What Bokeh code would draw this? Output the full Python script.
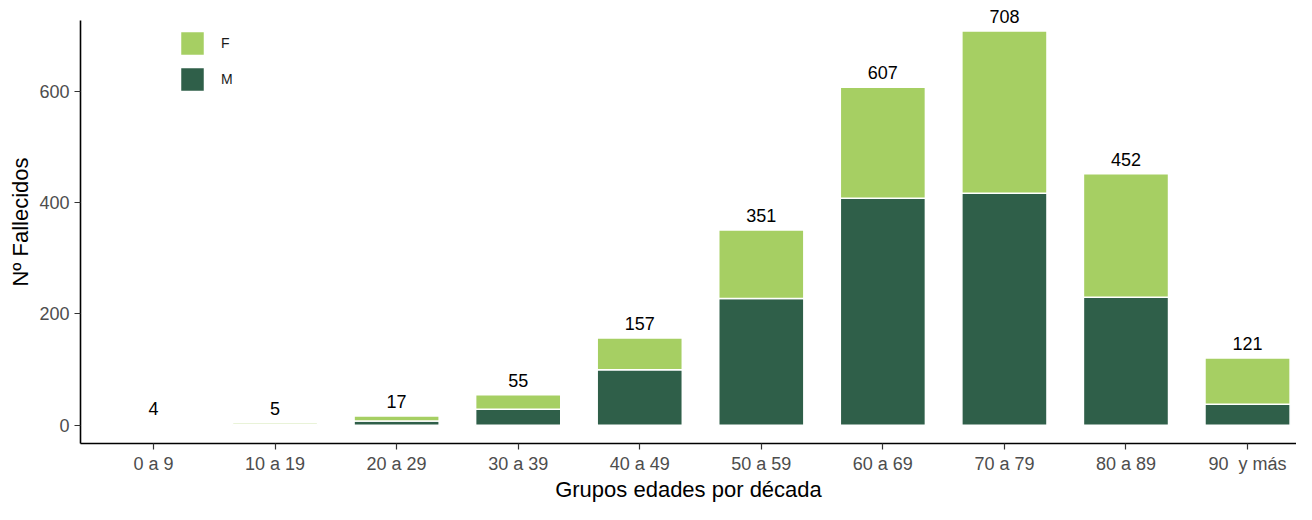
from bokeh.plotting import figure
from bokeh.models import (ColumnDataSource, Range1d, FixedTicker, LabelSet,
                          Legend, LegendItem)
from bokeh.core.properties import value
from bokeh.embed import file_html
from bokeh.resources import INLINE

# ---- data ----
categories = ["0 a 9", "10 a 19", "20 a 29", "30 a 39", "40 a 49",
              "50 a 59", "60 a 69", "70 a 79", "80 a 89", "90  y más"]
m_values = [2, 2, 8, 29, 100, 228, 408, 417, 230, 38]
f_values = [2, 3, 9, 26, 57, 123, 199, 291, 222, 83]
totals = [4, 5, 17, 55, 157, 351, 607, 708, 452, 121]
y_ticks = [0, 200, 400, 600]
x_title = "Grupos edades por década"
y_title = "Nº Fallecidos"

FONT = "Liberation Sans"
LIGHT = "#A6CF63"
DARK = "#2F5F49"

FRAME_W, FRAME_H = 1216, 443
AXIS_TOP_PX = 20          # where the y axis line starts below frame top
Y0, YTOP = -32.6, 727
py = (FRAME_H - AXIS_TOP_PX) / (YTOP - Y0)
Y1 = YTOP + AXIS_TOP_PX / py
SPACING = 121.56
X0 = -73 / SPACING
X1 = X0 + FRAME_W / SPACING

xs = list(range(len(categories)))
src = ColumnDataSource(dict(
    x=xs, M=m_values, F=f_values, total=totals,
    label=[str(t) for t in totals],
))

p = figure(frame_width=FRAME_W, frame_height=FRAME_H,
           output_backend="svg", toolbar_location=None,
           x_range=Range1d(X0, X1), y_range=Range1d(Y0, Y1),
           min_border_left=80, min_border_right=0, min_border_top=0,
           min_border_bottom=0)

rs = p.vbar_stack(["M", "F"], x="x", width=0.7, source=src,
                  fill_color=[DARK, LIGHT], line_color="white", line_width=1.5)

labels = LabelSet(x="x", y="total", text="label", source=src,
                  text_align="center", text_baseline="alphabetic", y_offset=8,
                  text_font=value(FONT), text_font_size="18px",
                  text_color="black")
p.add_layout(labels)

legend = Legend(items=[LegendItem(label="F", renderers=[rs[1]]),
                       LegendItem(label="M", renderers=[rs[0]])],
                location=(97, FRAME_H - 28 - 66), glyph_width=30, glyph_height=30,
                spacing=6, padding=0, margin=0, label_standoff=14,
                label_text_font=FONT, label_text_font_size="14px",
                label_text_color="#1a1a1a", background_fill_alpha=0,
                border_line_alpha=0)
p.add_layout(legend)

p.xgrid.visible = False
p.ygrid.visible = False
p.outline_line_color = None

p.xaxis.ticker = FixedTicker(ticks=xs)
p.xaxis.major_label_overrides = {i: c.replace("  ", "\u00a0 ")
                                 for i, c in enumerate(categories)}
p.yaxis.ticker = FixedTicker(ticks=y_ticks)
p.yaxis.bounds = (Y0, YTOP)

for ax in (p.xaxis, p.yaxis):
    ax.axis_line_color = "black"
    ax.axis_line_width = 1.6
    ax.major_tick_line_color = "#333333"
    ax.major_tick_line_width = 1.2
    ax.major_tick_out = 6
    ax.major_tick_in = 0
    ax.minor_tick_line_color = None
    ax.major_label_text_font = FONT
    ax.major_label_text_font_size = "18px"
    ax.major_label_text_color = "#4D4D4D"
    ax.axis_label_text_font = FONT
    ax.axis_label_text_font_size = "22px"
    ax.axis_label_text_font_style = "normal"
    ax.axis_label_text_color = "black"

p.xaxis.axis_label = x_title
p.yaxis.axis_label = y_title
p.xaxis.major_label_standoff = 4
p.yaxis.major_label_standoff = 5
p.xaxis.axis_label_standoff = 0
p.yaxis.axis_label_standoff = 3

open("out.html", "w").write(file_html(p, INLINE))
